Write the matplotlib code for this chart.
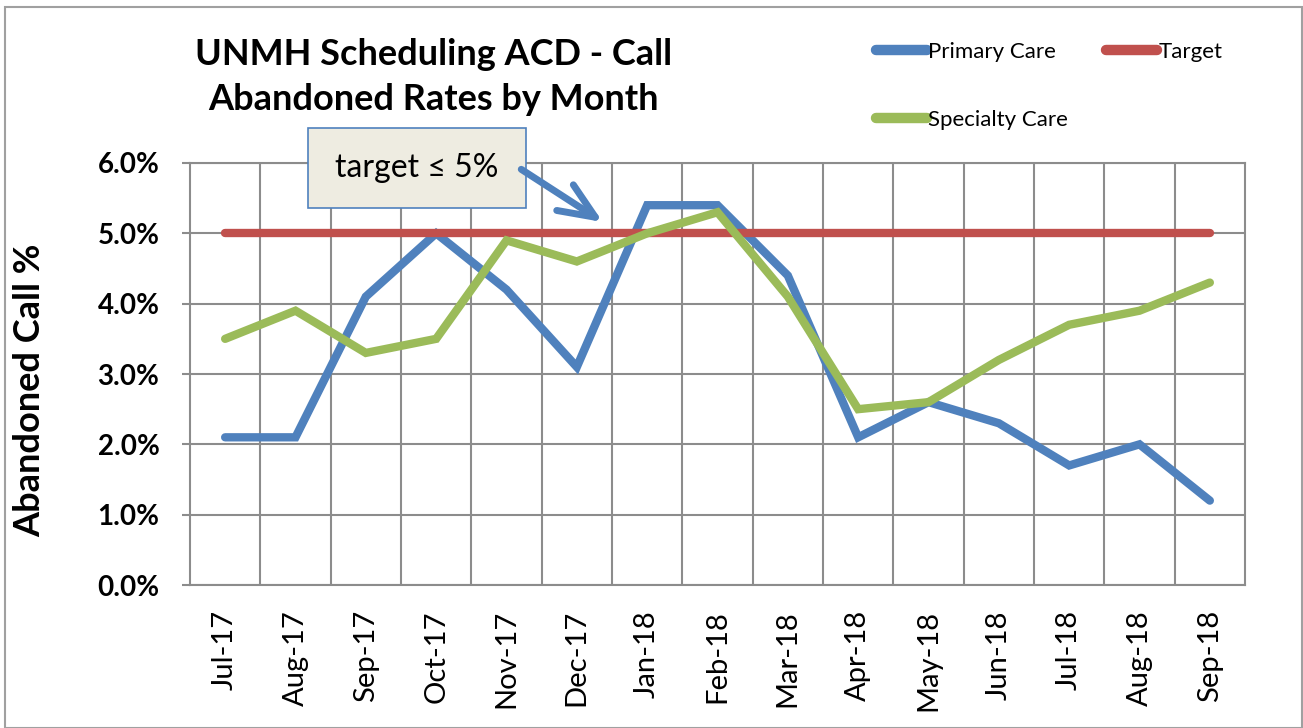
import matplotlib.pyplot as plt
from matplotlib.ticker import FuncFormatter, FixedLocator
from matplotlib.patches import Rectangle

# data
months = ['Jul-17', 'Aug-17', 'Sep-17', 'Oct-17', 'Nov-17', 'Dec-17', 'Jan-18',
          'Feb-18', 'Mar-18', 'Apr-18', 'May-18', 'Jun-18', 'Jul-18', 'Aug-18', 'Sep-18']
primary_care = [2.1, 2.1, 4.1, 5.0, 4.2, 3.1, 5.4, 5.4, 4.4, 2.1, 2.6, 2.3, 1.7, 2.0, 1.2]
specialty_care = [3.5, 3.9, 3.3, 3.5, 4.9, 4.6, 5.0, 5.3, 4.1, 2.5, 2.6, 3.2, 3.7, 3.9, 4.3]
target = [5.0] * len(months)

BLUE = '#4F81BD'
RED = '#C0504D'
GREEN = '#9BBB59'
GRID = '#8C8C8C'

plt.rcParams['font.family'] = ['Lato', 'DejaVu Sans']

fig = plt.figure(figsize=(13.03, 7.28), dpi=100)
fig.add_artist(Rectangle((0.004, 0.0), 0.995, 0.99, transform=fig.transFigure,
                         fill=False, edgecolor='#A0A0A0', lw=1.5))

ax = fig.add_axes([0.1458, 0.1964, 0.8097, 0.5797])
x = list(range(len(months)))

l1, = ax.plot(x, primary_care, color=BLUE, lw=6, solid_capstyle='round',
              solid_joinstyle='miter', label='Primary Care', zorder=3)
l2, = ax.plot(x, target, color=RED, lw=6, solid_capstyle='round',
              label='Target', zorder=3)
l3, = ax.plot(x, specialty_care, color=GREEN, lw=6, solid_capstyle='round',
              solid_joinstyle='miter', label='Specialty Care', zorder=3)

ax.set_xlim(-0.5, len(months) - 0.5)
ax.set_ylim(0, 6)
ax.set_yticks([0, 1, 2, 3, 4, 5, 6])
ax.yaxis.set_major_formatter(FuncFormatter(lambda v, p: f'{v:.1f}%'))
ax.set_xticks(x)
ax.set_xticklabels(months, rotation=90, fontsize=21)
ax.xaxis.set_minor_locator(FixedLocator([i + 0.5 for i in range(len(months) - 1)]))
ax.tick_params(axis='x', which='both', length=0, pad=18)
ax.tick_params(axis='y', length=6, color=GRID, width=1.5, labelsize=20, pad=16)
for t in ax.get_yticklabels():
    t.set_fontweight('bold')

ax.grid(axis='y', which='major', color=GRID, lw=1.5)
ax.grid(axis='x', which='minor', color=GRID, lw=1.5)
ax.set_axisbelow(True)
for s in ax.spines.values():
    s.set_color(GRID)
    s.set_linewidth(1.5)

ax.set_ylabel('Abandoned Call %', fontsize=26, fontweight='bold')
ax.yaxis.set_label_coords(-0.136, 0.462)

fig.text(0.333, 0.894, 'UNMH Scheduling ACD - Call\nAbandoned Rates by Month',
         ha='center', va='center', fontsize=26, fontweight='bold', linespacing=1.45)

leg = fig.legend(handles=[l1, l3, l2], ncol=2, loc='upper left',
                 bbox_to_anchor=(0.657, 0.97), frameon=False, fontsize=16,
                 handlelength=2.3, handletextpad=0.05, labelspacing=2.15,
                 columnspacing=1.7)
for h in leg.get_lines():
    h.set_linewidth(7.5)

# callout box with arrow
ax.add_patch(Rectangle((1.178, 5.36), 3.10, 1.14, fc='#EEECE1', ec=BLUE,
                       lw=1.2, clip_on=False, zorder=5))
ax.text(2.73, 5.93, 'target \u2264 5%', fontsize=23, ha='center', va='center',
        zorder=6, clip_on=False)
ax.annotate('', xy=(5.37, 5.16), xytext=(4.21, 5.91),
            arrowprops=dict(arrowstyle='->,head_length=1.3,head_width=0.55',
                            mutation_scale=20, color=BLUE, lw=5,
                            shrinkA=0, shrinkB=0),
            annotation_clip=False, zorder=5)

fig.savefig('out.png', dpi=100)
